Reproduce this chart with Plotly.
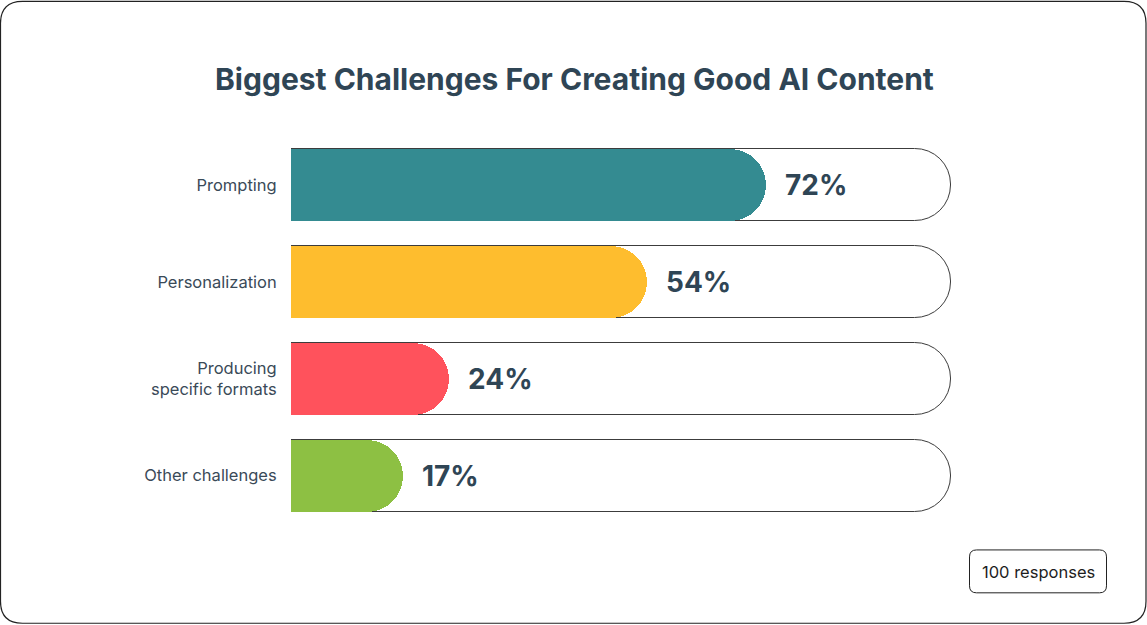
import plotly.graph_objects as go

categories = ["Prompting", "Personalization", "Producing<br>specific formats", "Other challenges"]
values = [72, 54, 24, 17]
value_labels = ["72%", "54%", "24%", "17%"]
track_values = [100, 100, 100, 100]
colors = ["#348B91", "#FEBD2E", "#FF525C", "#8DC043"]

W, H = 1147, 625
L, R = 291, 951
T, B = 136.5, 524.5
DARK = "#2F4555"
FONT = "Inter"

fig = go.Figure()
# background track on primary axes
fig.add_trace(go.Bar(
    y=categories, x=track_values, orientation="h", width=0.742,
    marker=dict(color="white", line=dict(color="#3C3C3C", width=1), cornerradius="50%"),
    hoverinfo="skip", showlegend=False, xaxis="x", yaxis="y", cliponaxis=False,
))
# value bars on overlaying axes (drawn above)
fig.add_trace(go.Bar(
    y=categories, x=values, orientation="h", width=0.742,
    marker=dict(color=colors, line=dict(width=0), cornerradius="50%"),
    showlegend=False, xaxis="x2", yaxis="y2", cliponaxis=False,
))

for c, v, t in zip(categories, values, value_labels):
    fig.add_annotation(x=v, y=c, xref="x2", yref="y2", text=t, showarrow=False,
                       xanchor="left", xshift=17, yshift=0,
                       font=dict(family=FONT, size=28, color=DARK, weight="bold"))

def px(x):
    return (x - L) / (R - L)

def py(y):
    return (B - y) / (B - T)

def rrect(x0, y0, x1, y1, r):
    pts = [
        f"M {px(x0 + r)},{py(y0)}",
        f"L {px(x1 - r)},{py(y0)}",
        f"Q {px(x1)},{py(y0)} {px(x1)},{py(y0 + r)}",
        f"L {px(x1)},{py(y1 - r)}",
        f"Q {px(x1)},{py(y1)} {px(x1 - r)},{py(y1)}",
        f"L {px(x0 + r)},{py(y1)}",
        f"Q {px(x0)},{py(y1)} {px(x0)},{py(y1 - r)}",
        f"L {px(x0)},{py(y0 + r)}",
        f"Q {px(x0)},{py(y0)} {px(x0 + r)},{py(y0)}",
        "Z",
    ]
    return " ".join(pts)

fig.add_shape(type="path", xref="paper", yref="paper", path=rrect(0.5, 0.5, 1146, 624, 22),
              line=dict(color="#222222", width=1.2), layer="below")
fig.add_shape(type="path", xref="paper", yref="paper", path=rrect(969.5, 550.5, 1106.5, 593.5, 7),
              line=dict(color="#222222", width=1), layer="above")
fig.add_annotation(xref="paper", yref="paper", x=px(1038), y=py(573), text="100 responses",
                   showarrow=False, xanchor="center", yanchor="middle",
                   font=dict(family=FONT, size=16.5, color="#1E1E1E"))

fig.add_annotation(xref="paper", yref="paper", x=px(574), y=py(78), text="Biggest Challenges For Creating Good AI Content",
                   showarrow=False, xanchor="center", yanchor="middle",
                   font=dict(family=FONT, size=30, color=DARK, weight="bold"))

fig.update_layout(
    width=W, height=H,
    margin=dict(l=L, r=W - R, t=T, b=H - B, pad=0),
    paper_bgcolor="white", plot_bgcolor="white",
    barmode="overlay", bargap=0,
    xaxis=dict(range=[0, 100], visible=False, fixedrange=True),
    xaxis2=dict(range=[0, 100], visible=False, fixedrange=True, overlaying="x"),
    yaxis=dict(autorange="reversed", showgrid=False, zeroline=False, showline=False,
               ticks="outside", ticklen=10, tickcolor="rgba(0,0,0,0)",
               tickfont=dict(family=FONT, size=16.5, color="#3A4A58"), fixedrange=True),
    yaxis2=dict(autorange="reversed", visible=False, overlaying="y", fixedrange=True,
                categoryorder="array", categoryarray=categories),
)

fig.write_html("out.html")
